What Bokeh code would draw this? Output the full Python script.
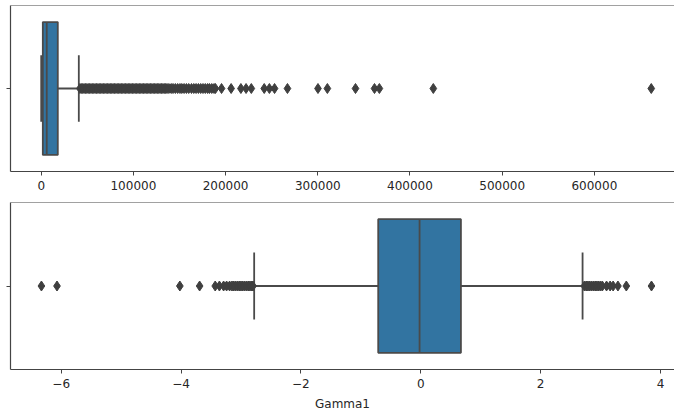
from bokeh.plotting import figure
from bokeh.layouts import column
from bokeh.models import Range1d, FixedTicker, Span, CustomJSTickFormatter, BasicTickFormatter
from bokeh.embed import file_html
from bokeh.resources import INLINE

# ---- data: top box plot (unnamed column) ----
top_stats = {"lo": 0, "q1": 1750, "med": 6000, "q3": 18000, "hi": 40800}
top_outliers = [
    42000, 43500, 45000, 46500, 48000, 49500, 51000, 52500, 54000, 55500,
    57000, 58500, 60000, 61500, 63000, 64500, 66000, 67500, 69000, 70500,
    72000, 73500, 75000, 76500, 78000, 79500, 81000, 82500, 84000, 85500,
    87000, 88500, 90000, 91500, 93000, 94500, 96000, 97500, 99000, 100500,
    102000, 103500, 105000, 106500, 108000, 109500, 111000, 112500, 114000,
    115500, 117000, 118500, 120000, 121500, 123000, 124500, 126000, 127500,
    129000, 130500, 132000, 133500, 135000, 136500,
    138500, 141000, 143000, 145500, 148000, 150500, 152500, 155000, 157500,
    160000, 163000, 165500, 168000, 170500, 173000, 175500, 178000, 180500,
    182500, 185000, 187500, 189000,
    195600, 206000, 216600, 222200, 227900, 241900, 247500, 253100, 267100,
    300200, 310400, 340900, 361500, 366800, 425300, 661700,
]
top_ticks = [0, 100000, 200000, 300000, 400000, 500000, 600000]

# ---- data: bottom box plot (Gamma1) ----
bot_stats = {"lo": -2.78, "q1": -0.71, "med": -0.02, "q3": 0.67, "hi": 2.70}
bot_outliers = [
    -6.33, -6.07, -4.02, -3.69, -3.43, -3.36, -3.29, -3.24, -3.19, -3.15,
    -3.12, -3.09, -3.06, -3.03, -3.00, -2.97, -2.94, -2.91, -2.88, -2.85,
    -2.82, -2.80,
    2.73, 2.76, 2.79, 2.82, 2.85, 2.88, 2.91, 2.94, 2.97, 3.00, 3.03,
    3.10, 3.16, 3.21, 3.29, 3.43, 3.85,
]
bot_ticks = [-6, -4, -2, 0, 2, 4]
bot_label = "Gamma1"

BOX_FILL = "#3274a1"
GRAY = "#3f3f3f"
LINE = "#4a4a4a"
FRAME = "#444444"
TEXT = "#262626"
FONT = "DejaVu Sans"


def make_plot(stats, outliers, x_start, x_end, ticks, height, border_top, border_bottom, label=None, formatter=None):
    p = figure(width=674, height=height, x_range=Range1d(x_start, x_end), y_range=Range1d(-0.5, 0.5),
               output_backend="svg", toolbar_location=None,
               min_border_left=10, min_border_right=0, min_border_top=border_top,
               min_border_bottom=border_bottom)
    p.outline_line_color = None
    p.xgrid.visible = False
    p.ygrid.visible = False

    lw = 1.8
    # whiskers
    p.segment(x0=[stats["lo"], stats["q3"]], y0=[0, 0], x1=[stats["q1"], stats["hi"]], y1=[0, 0],
              line_color=LINE, line_width=lw)
    # caps
    p.segment(x0=[stats["lo"], stats["hi"]], y0=[-0.2, -0.2], x1=[stats["lo"], stats["hi"]], y1=[0.2, 0.2],
              line_color=LINE, line_width=lw)
    # box
    p.quad(left=[stats["q1"]], right=[stats["q3"]], bottom=[-0.4], top=[0.4],
           fill_color=BOX_FILL, line_color=LINE, line_width=lw)
    # median
    p.segment(x0=[stats["med"]], y0=[-0.4], x1=[stats["med"]], y1=[0.4], line_color=LINE, line_width=lw)
    # fliers
    p.scatter(x=outliers, y=[0] * len(outliers), marker="diamond", size=10,
              fill_color=GRAY, line_color=GRAY, line_width=1)

    # x axis
    xa = p.xaxis[0]
    xa.ticker = FixedTicker(ticks=ticks)
    xa.minor_tick_line_color = None
    xa.major_tick_in = 0
    xa.major_tick_out = 4
    xa.major_tick_line_color = FRAME
    xa.axis_line_color = FRAME
    xa.axis_line_width = 1.2
    xa.major_label_text_font = FONT
    xa.major_label_text_font_size = "12px"
    xa.major_label_text_color = TEXT
    xa.major_label_standoff = 5
    if formatter is not None:
        xa.formatter = formatter
    if label:
        xa.axis_label = label
        xa.axis_label_text_font = FONT
        xa.axis_label_text_font_size = "12px"
        xa.axis_label_text_font_style = "normal"
        xa.axis_label_text_color = TEXT
        xa.axis_label_standoff = 6

    # y axis: single tick, no label
    ya = p.yaxis[0]
    ya.ticker = FixedTicker(ticks=[0])
    ya.minor_tick_line_color = None
    ya.major_tick_in = 0
    ya.major_tick_out = 4
    ya.major_tick_line_color = FRAME
    ya.axis_line_color = FRAME
    ya.axis_line_width = 1.2
    ya.formatter = CustomJSTickFormatter(code="return '';")
    ya.major_label_standoff = 0

    # top frame edge
    p.add_layout(Span(location=0.5, dimension="width", line_color=FRAME, line_width=1.2))
    return p


p1 = make_plot(top_stats, top_outliers, -33300, 686900, top_ticks, 196, 5, 25,
               formatter=BasicTickFormatter(use_scientific=False))
minus_fmt = CustomJSTickFormatter(code="return tick < 0 ? '\\u2212' + Math.abs(tick) : String(tick);")
p2 = make_plot(bot_stats, bot_outliers, -6.846, 4.234, bot_ticks, 219, 6, 46,
               label=bot_label, formatter=minus_fmt)

layout = column(p1, p2, spacing=0)
open("out.html", "w").write(file_html(layout, INLINE))
